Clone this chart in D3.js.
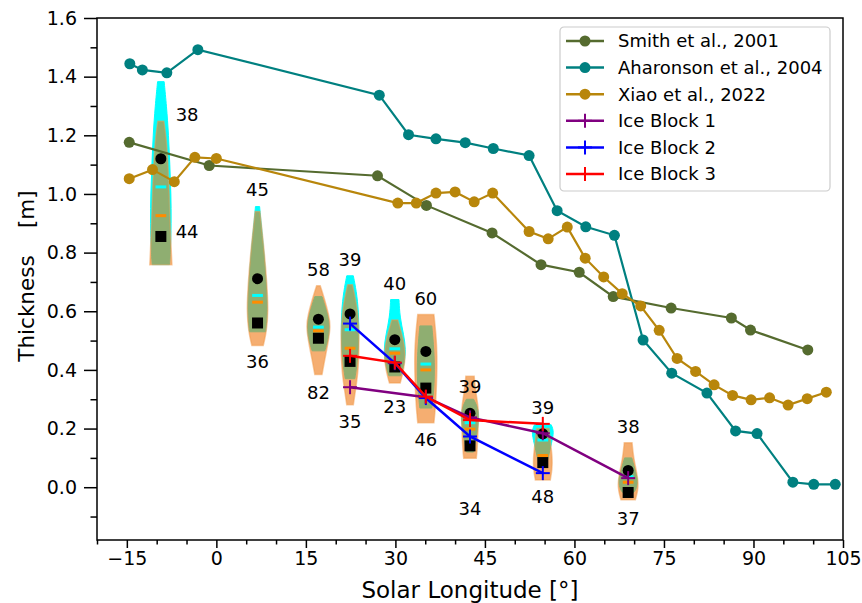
<!DOCTYPE html>
<html>
<head>
<meta charset="utf-8">
<script src="https://cdn.jsdelivr.net/npm/d3@7"></script>
<style>
	body { margin: 0; background: white; }
	text { font-family: "DejaVu Sans", sans-serif; fill: black; }
	.axis text { font-size: 19px; }
	.axis path, .axis line { stroke: black; stroke-width: 1.5px; }
</style>
</head>
<body>
<svg id="chart" width="862" height="603"></svg>
<script>

// Reference curves
const smithLon = [-14.6, -1.2, 27.0, 35.2, 46.2, 54.4, 60.8, 66.5, 76.2, 86.3, 89.5, 99.1];
const smithThk = [1.176, 1.097, 1.062, 0.961, 0.867, 0.759, 0.733, 0.650, 0.611, 0.577, 0.536, 0.468];

const aharonsonLon = [-14.5, -12.4, -8.3, -3.1, 27.3, 32.2, 36.8, 41.7, 46.4, 52.4, 57.1, 61.9, 66.7, 71.5, 76.3, 82.2, 87.0, 90.6, 96.6, 100.1, 103.7];
const aharonsonThk = [1.444, 1.423, 1.413, 1.492, 1.337, 1.202, 1.188, 1.175, 1.155, 1.131, 0.943, 0.888, 0.859, 0.502, 0.389, 0.321, 0.192, 0.183, 0.017, 0.010, 0.010];

const xiaoLon = [-14.6, -10.7, -7.05, -3.6, 0.0, 30.4, 33.5, 36.8, 40.0, 43.2, 46.3, 52.4, 55.6, 58.8, 61.8, 64.9, 68.0, 71.1, 74.2, 77.2, 80.3, 83.4, 86.5, 89.6, 92.7, 95.8, 99.0, 102.2];
const xiaoThk = [1.052, 1.083, 1.042, 1.125, 1.121, 0.969, 0.969, 1.003, 1.007, 0.973, 1.003, 0.872, 0.847, 0.887, 0.781, 0.717, 0.660, 0.618, 0.535, 0.439, 0.395, 0.349, 0.313, 0.298, 0.305, 0.280, 0.302, 0.324];

// Ice blocks
const ib1Lon = [22.4, 35.1, 42.5, 54.7, 69.0];
const ib1Thk = [0.341, 0.307, 0.238, 0.184, 0.031];
const ib2Lon = [22.4, 29.9, 35.1, 42.5, 54.7];
const ib2Thk = [0.558, 0.423, 0.304, 0.173, 0.048];
const ib3Lon = [22.4, 29.9, 35.1, 42.5, 54.7];
const ib3Thk = [0.448, 0.425, 0.309, 0.229, 0.216];

// Violins
const violinLon = [-9.3, 6.9, 17.1, 22.4, 29.9, 35.1, 42.5, 54.7, 69.0];
const circleThk = [1.12, 0.711, 0.573, 0.591, 0.503, 0.463, 0.252, 0.182, 0.057];
const squareThk = [0.855, 0.56, 0.508, 0.429, 0.41, 0.338, 0.141, 0.084, -0.018];
const cyanMid = [1.024, 0.654, 0.546, 0.537, 0.472, 0.42, 0.22, 0.161, 0.036];
const orangeMid = [0.926, 0.631, 0.533, 0.474, 0.457, 0.40, 0.198, 0.108, 0.017];

// [thickness, half width in degrees], top to bottom
const cyanProfiles = [
	[[1.383,0.55],[1.30,0.95],[1.20,1.3],[1.10,1.5],[1.0,1.7],[0.9,1.75],[0.8,1.6],[0.759,1.45]],
	[[0.957,0.35],[0.91,0.55],[0.81,1.05],[0.70,1.45],[0.60,1.7],[0.53,1.35]],
	[[0.65,0.6],[0.60,1.4],[0.55,1.95],[0.50,1.6],[0.465,1.05]],
	[[0.721,0.55],[0.67,1.05],[0.60,1.45],[0.50,1.5],[0.42,1.2],[0.37,0.8]],
	[[0.64,0.7],[0.58,0.85],[0.52,1.5],[0.47,1.85],[0.42,1.6],[0.38,1.0]],
	[[0.55,1.0],[0.45,1.45],[0.35,1.45],[0.27,1.0]],
	[[0.30,0.6],[0.26,1.6],[0.20,1.3],[0.15,0.85],[0.12,0.6]],
	[[0.213,1.4],[0.19,1.9],[0.15,1.45],[0.10,0.9],[0.07,0.5]],
	[[0.10,0.6],[0.05,1.3],[0.02,1.65],[-0.01,1.3],[-0.02,0.8]]
];
const orangeProfiles = [
	[[1.248,0.5],[1.20,0.85],[1.12,1.15],[1.0,1.4],[0.9,1.55],[0.8,1.75],[0.759,1.85]],
	[[0.94,0.4],[0.81,1.1],[0.70,1.55],[0.60,1.8],[0.53,1.5],[0.483,0.95]],
	[[0.687,0.3],[0.64,1.05],[0.59,1.7],[0.55,2.05],[0.49,1.6],[0.435,1.05],[0.384,0.6]],
	[[0.69,0.4],[0.60,1.35],[0.50,1.55],[0.40,1.4],[0.33,0.9],[0.281,0.55]],
	[[0.57,0.5],[0.50,1.5],[0.45,1.8],[0.40,1.5],[0.355,0.9]],
	[[0.589,1.35],[0.52,1.7],[0.45,1.9],[0.35,1.8],[0.27,1.6],[0.22,1.35]],
	[[0.378,0.7],[0.33,0.9],[0.264,1.5],[0.196,1.35],[0.127,1.2],[0.099,1.05]],
	[[0.20,1.05],[0.15,1.3],[0.10,1.6],[0.06,1.55],[0.025,1.25]],
	[[0.152,0.65],[0.10,0.9],[0.05,1.45],[0.0,1.8],[-0.043,1.2]]
];

// sample counts and where they are written
const countTop = [38, 45, 58, 39, 40, 60, 39, 39, 38];
const countBottom = [44, 36, 82, 35, 23, 46, 34, 48, 37];
const countTopLon = [-4.9, 6.9, 17.1, 22.4, 29.9, 35.1, 42.5, 54.7, 69.0];
const countTopThk = [1.27, 1.015, 0.744, 0.778, 0.696, 0.645, 0.342, 0.272, 0.207];
const countBottomLon = [-4.9, 6.9, 17.1, 22.4, 29.9, 35.1, 42.5, 54.7, 69.0];
const countBottomThk = [0.871, 0.428, 0.323, 0.224, 0.275, 0.161, -0.071, -0.032, -0.106];

const xMajor = [-15, 0, 15, 30, 45, 60, 75, 90, 105];
const xMinor = [-20, -10, -5, 5, 10, 20, 25, 35, 40, 50, 55, 65, 70, 80, 85, 95, 100];
const yMajor = [0.0, 0.2, 0.4, 0.6, 0.8, 1.0, 1.2, 1.4, 1.6];
const yMinor = [-0.1, 0.1, 0.3, 0.5, 0.7, 0.9, 1.1, 1.3, 1.5];

const svg = d3.select('#chart');

const x = d3.scaleLinear().domain([-20, 105]).range([97, 843]);
const y = d3.scaleLinear().domain([-0.18, 1.6]).range([540, 18]);

function zip(a, b) { return a.map((v, i) => [v, b[i]]); }

// violins
const violinArea = d3.area()
	.y(d => y(d[0]))
	.curve(d3.curveBasis);

const violinG = svg.append('g');
violinLon.forEach((lon, i) => {
	violinG.append('path')
		.attr('d', violinArea.x0(d => x(lon - d[1])).x1(d => x(lon + d[1]))(cyanProfiles[i]))
		.style('fill', '#00ffff')
		.style('stroke', '#00ffff')
		.style('stroke-width', 1);
	violinG.append('path')
		.attr('d', violinArea.x0(d => x(lon - d[1])).x1(d => x(lon + d[1]))(orangeProfiles[i]))
		.style('fill', '#ef7812')
		.style('fill-opacity', 0.6)
		.style('stroke', '#f29a4a')
		.style('stroke-opacity', 0.5)
		.style('stroke-width', 1.5);
});

// mean / median marks
violinLon.forEach((lon, i) => {
	violinG.append('line')
		.attr('x1', x(lon - 0.9)).attr('x2', x(lon + 0.9))
		.attr('y1', y(cyanMid[i])).attr('y2', y(cyanMid[i]))
		.style('stroke', '#00ffff').style('stroke-width', 3);
	violinG.append('line')
		.attr('x1', x(lon - 0.9)).attr('x2', x(lon + 0.9))
		.attr('y1', y(orangeMid[i])).attr('y2', y(orangeMid[i]))
		.style('stroke', '#ff8c00').style('stroke-width', 3);
	violinG.append('circle')
		.attr('cx', x(lon)).attr('cy', y(circleThk[i])).attr('r', 5.5)
		.style('fill', 'black');
	violinG.append('rect')
		.attr('x', x(lon) - 5.5).attr('y', y(squareThk[i]) - 5.5)
		.attr('width', 11).attr('height', 11)
		.style('fill', 'black');
});

// reference curves
const line = d3.line().x(d => x(d[0])).y(d => y(d[1]));

const refSeries = [
	{name: 'Smith et al., 2001', color: '#556b2f', pts: zip(smithLon, smithThk)},
	{name: 'Aharonson et al., 2004', color: '#008080', pts: zip(aharonsonLon, aharonsonThk)},
	{name: 'Xiao et al., 2022', color: '#b8860b', pts: zip(xiaoLon, xiaoThk)}
];
const iceSeries = [
	{name: 'Ice Block 1', color: '#800080', pts: zip(ib1Lon, ib1Thk)},
	{name: 'Ice Block 2', color: '#0000ff', pts: zip(ib2Lon, ib2Thk)},
	{name: 'Ice Block 3', color: '#ff0000', pts: zip(ib3Lon, ib3Thk)}
];

refSeries.forEach(s => {
	const g = svg.append('g');
	g.append('path').attr('d', line(s.pts))
		.style('fill', 'none').style('stroke', s.color).style('stroke-width', 2.2);
	g.selectAll('circle').data(s.pts).enter().append('circle')
		.attr('cx', d => x(d[0])).attr('cy', d => y(d[1])).attr('r', 5.5)
		.style('fill', s.color);
});

function plus(g, cx, cy, size, color) {
	g.append('line').attr('x1', cx - size / 2).attr('x2', cx + size / 2).attr('y1', cy).attr('y2', cy)
		.style('stroke', color).style('stroke-width', 2);
	g.append('line').attr('x1', cx).attr('x2', cx).attr('y1', cy - size / 2).attr('y2', cy + size / 2)
		.style('stroke', color).style('stroke-width', 2);
}

iceSeries.forEach(s => {
	const g = svg.append('g');
	g.append('path').attr('d', line(s.pts))
		.style('fill', 'none').style('stroke', s.color).style('stroke-width', 2.5);
	s.pts.forEach(d => plus(g, x(d[0]), y(d[1]), 14, s.color));
});

// counts
const countG = svg.append('g').style('font-size', '18px').attr('text-anchor', 'middle');
countTop.forEach((c, i) => {
	countG.append('text').attr('x', x(countTopLon[i])).attr('y', y(countTopThk[i]))
		.attr('dy', '0.36em').text(c);
	countG.append('text').attr('x', x(countBottomLon[i])).attr('y', y(countBottomThk[i]))
		.attr('dy', '0.36em').text(countBottom[i]);
});

// axes
svg.append('g').attr('class', 'axis')
	.attr('transform', 'translate(0,' + y.range()[0] + ')')
	.call(d3.axisBottom(x).tickValues(xMajor).tickSize(8).tickPadding(4).tickFormat(d3.format('d')));
svg.append('g').attr('class', 'axis')
	.attr('transform', 'translate(0,' + y.range()[0] + ')')
	.call(d3.axisBottom(x).tickValues(xMinor).tickSize(4.5).tickFormat(''));
svg.append('g').attr('class', 'axis')
	.attr('transform', 'translate(' + x.range()[0] + ',0)')
	.call(d3.axisLeft(y).tickValues(yMajor).tickSize(13).tickPadding(7).tickFormat(d3.format('.1f')));
svg.append('g').attr('class', 'axis')
	.attr('transform', 'translate(' + x.range()[0] + ',0)')
	.call(d3.axisLeft(y).tickValues(yMinor).tickSize(6.5).tickFormat(''));
svg.selectAll('.axis .domain').remove();

svg.append('rect')
	.attr('x', x.range()[0]).attr('y', y.range()[1])
	.attr('width', x.range()[1] - x.range()[0])
	.attr('height', y.range()[0] - y.range()[1])
	.style('fill', 'none').style('stroke', 'black').style('stroke-width', 1.5);

svg.append('text')
	.attr('x', (x.range()[0] + x.range()[1]) / 2).attr('y', 598)
	.attr('text-anchor', 'middle').style('font-size', '23px')
	.text('Solar Longitude [°]');
svg.append('text')
	.attr('transform', 'translate(34,276) rotate(-90)')
	.attr('text-anchor', 'middle').style('font-size', '21.5px')
	.style('white-space', 'pre')
	.text('Thickness    [m]');

// legend
const legend = svg.append('g').attr('transform', 'translate(560,27)');
legend.append('rect')
	.attr('width', 270).attr('height', 164).attr('rx', 4)
	.style('fill', 'white').style('fill-opacity', 0.8)
	.style('stroke', '#cccccc').style('stroke-width', 1.2);
refSeries.concat(iceSeries).forEach((s, i) => {
	const row = legend.append('g').attr('transform', 'translate(0,' + (14 + i * 26.6) + ')');
	row.append('line').attr('x1', 6).attr('x2', 44).attr('y1', 0).attr('y2', 0)
		.style('stroke', s.color).style('stroke-width', 2.5);
	if (i < 3) {
		row.append('circle').attr('cx', 25).attr('cy', 0).attr('r', 5.5).style('fill', s.color);
	} else {
		plus(row, 25, 0, 14, s.color);
	}
	row.append('text').attr('x', 58).attr('y', 0).attr('dy', '0.36em')
		.style('font-size', '18px').text(s.name);
});

</script>
</body>
</html>
